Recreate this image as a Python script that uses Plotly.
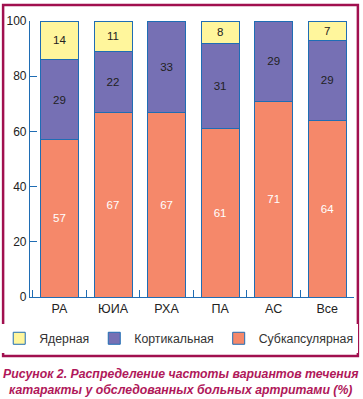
import plotly.graph_objects as go

categories = ["РА", "ЮИА", "РХА", "ПА", "АС", "Все"]
subcapsular = [57, 67, 67, 61, 71, 64]
cortical = [29, 22, 33, 31, 29, 29]
nuclear = [14, 11, 0, 8, 0, 7]
y_ticks = [0, 20, 40, 60, 80, 100]

BLUE = "#1f6db4"
FONT = "Liberation Sans, Arial, sans-serif"

def labels(vals):
    return [str(v) if v else "" for v in vals]

fig = go.Figure()
series = [
    ("Субкапсулярная", subcapsular, "#f5886a", "white"),
    ("Кортикальная", cortical, "#7670b4", "#222222"),
    ("Ядерная", nuclear, "#fff69c", "#222222"),
]
for name, vals, color, tcolor in series:
    fig.add_trace(go.Bar(
        name=name, x=categories, y=vals,
        marker=dict(color=color, line=dict(color=BLUE, width=1)),
        text=labels(vals), textposition="inside", insidetextanchor="middle",
        textangle=0,
        textfont=dict(family=FONT, size=13, color=tcolor),
        hoverinfo="skip",
    ))

fig.update_layout(
    barmode="stack", bargap=0.29,
    width=363, height=399,
    margin=dict(l=30, r=9, t=21, b=102, autoexpand=False),
    paper_bgcolor="white", plot_bgcolor="white",
    font=dict(family=FONT, size=12, color="#222222"),
    uniformtext=dict(minsize=8, mode="show"),
    legend=dict(orientation="h", traceorder="reversed",
                x=-0.095, xanchor="left", y=-0.097, yanchor="top",
                font=dict(size=12.3, color="#333333"),
                itemclick=False),
    xaxis=dict(range=[-0.55, 5.5], showline=True, linecolor=BLUE, linewidth=1.2,
               ticks="inside", tickson="boundaries", ticklen=7, tickcolor=BLUE,
               tickwidth=1.2, showgrid=False, tickfont=dict(size=12.5),
               automargin=False),
    yaxis=dict(range=[0, 100], tickvals=y_ticks, showline=True, linecolor=BLUE,
               linewidth=1.2, ticks="inside", ticklen=7, tickcolor=BLUE,
               tickwidth=1.2, showgrid=False, zeroline=False,
               tickfont=dict(size=12), automargin=False),
    shapes=[dict(type="rect", xref="paper", yref="paper", layer="above",
                 x0=-0.083, x1=1.012, y0=-0.214, y1=1.058,
                 line=dict(color="#a1104f", width=2.5),
                 fillcolor="rgba(0,0,0,0)")],
    annotations=[dict(xref="paper", yref="paper", x=0.466, y=-0.248,
                      xanchor="center", yanchor="top", showarrow=False,
                      align="center",
                      text="<b><i>Рисунок 2. Распределение частоты вариантов течения<br>катаракты у обследованных больных артритами (%)</i></b>",
                      font=dict(family=FONT, size=12.3, color="#b0185a"))],
)

fig.write_html("out.html", config={"displayModeBar": False},
               post_script="document.body.style.margin='0';document.body.style.overflow='hidden';")
